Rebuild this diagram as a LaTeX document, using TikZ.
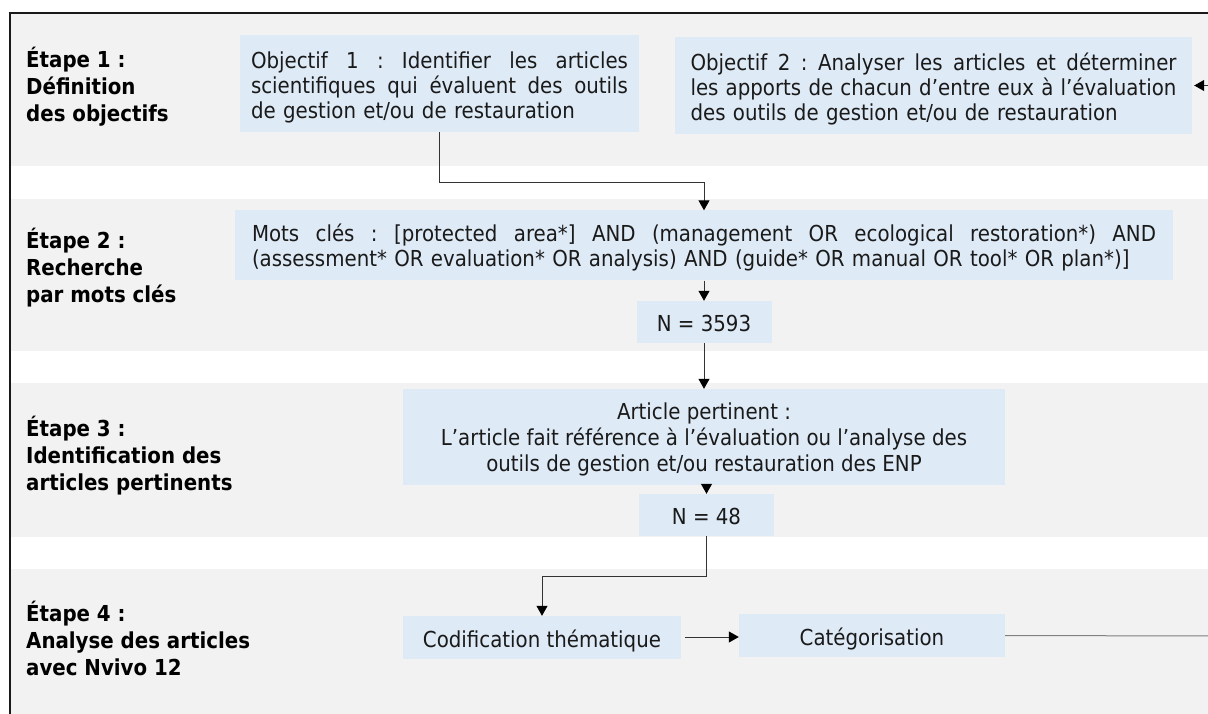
\documentclass[tikz,border=0pt]{standalone}
\usepackage{fontspec}
\setmainfont{DejaVu Sans Condensed}
\usetikzlibrary{arrows.meta}
\definecolor{bandgray}{HTML}{F2F2F2}
\definecolor{boxblue}{HTML}{DEEAF6}
\definecolor{txt}{HTML}{1A1A1A}
\newcommand\justline[2]{\leavevmode\hbox to #1{\spaceskip=\fontdimen2\font plus 1fil\relax #2}}
\frenchspacing
\begin{document}
\begin{tikzpicture}[x=1pt,y=-1pt,
  stepbox/.style={fill=boxblue,draw=none,inner sep=0pt,text=txt,
    font=\fontsize{22}{25}\selectfont},
  onebox/.style={stepbox,text height=24pt,text depth=5pt},
  steplabel/.style={anchor=west,inner sep=0pt,align=left,text=black,
    font=\fontsize{22}{27}\selectfont\bfseries},
  conn/.style={draw=black!80,line width=1pt},
  arr/.style={conn,-{Triangle[length=10pt,width=11pt,black]}},
]
\useasboundingbox (0,0) rectangle (1208,714);
\fill[white] (0,0) rectangle (1208,714);
% bands
\fill[bandgray] (11,14) rectangle (1210,166);
\fill[bandgray] (11,199) rectangle (1210,351);
\fill[bandgray] (11,383) rectangle (1210,537);
\fill[bandgray] (11,569) rectangle (1210,716);
% frame
\draw[line width=2.4pt,black!90,line join=miter] (10,718) -- (10,13) -- (1212,13);
% labels
\node[steplabel] (l1) at (26,87) {Étape 1 :\\Définition\\des objectifs};
\node[steplabel] (l2) at (26,268) {Étape 2 :\\Recherche\\par mots clés};
\node[steplabel] (l3) at (26,456) {Étape 3 :\\Identification des\\articles pertinents};
\node[steplabel] (l4) at (26,638) {Étape 4 :\\Analyse des articles\\avec Nvivo 12};
% boxes
\node[stepbox,minimum width=399pt,minimum height=97pt,text width=377pt,align=left] (obj1) at (439.5,83.5)
  {\rule{0pt}{25pt}\justline{377pt}{Objectif 1 : Identifier les articles}\\\justline{377pt}{scientifiques qui évaluent des outils}\\de gestion et/ou de restauration};
\node[stepbox,minimum width=517pt,minimum height=97pt,text width=486pt,align=left] (obj2) at (933.5,85.5)
  {\rule{0pt}{24pt}\justline{486pt}{Objectif 2 : Analyser les articles et déterminer}\\\justline{486pt}{les apports de chacun d’entre eux à l’évaluation}\\des outils de gestion et/ou de restauration};
\node[stepbox,minimum width=938pt,minimum height=70pt,text width=904pt,align=left] (mots) at (704,245.5)
  {\rule{0pt}{21pt}\justline{904pt}{Mots clés : [protected area*] AND (management OR ecological restoration*) AND}\\(assessment* OR evaluation* OR analysis) AND (guide* OR manual OR tool* OR plan*)]};
\node[onebox,minimum width=135pt,minimum height=42pt] (n1) at (704,322) {N = 3593};
\node[stepbox,minimum width=602pt,minimum height=96pt,align=center,font=\fontsize{22}{26}\selectfont] (art) at (704,437)
  {\rule{0pt}{21pt}Article pertinent :\\L’article fait référence à l’évaluation ou l’analyse des\\outils de gestion et/ou restauration des ENP};
\node[onebox,minimum width=135pt,minimum height=42pt] (n2) at (706.5,515) {N = 48};
\node[onebox,minimum width=278pt,minimum height=43pt] (cod) at (542,637.5) {Codification thématique};
\node[onebox,minimum width=266pt,minimum height=43pt] (cat) at (872,635.5) {Catégorisation};
% connectors
\coordinate (redge1) at (1210,85.5);
\coordinate (redge2) at (1210,636);
\draw[arr] (obj1.south) -- ++(0,50) -| (mots.north);
\draw[arr,shorten >=2pt] (redge1) -- (obj2.east);
\draw[arr] (mots.south) -- (n1.north);
\draw[arr] (n1.south) -- (art.north);
\draw[arr] (art.south -| n2.north) -- (n2.north);
\draw[arr] (n2.south) -- ++(0,40) -| (cod.north);
\draw[arr,shorten <=4pt] (cod.east |- 0,637) -- (cat.west |- 0,637);
\draw[conn,draw=black!50] (cat.east) -- (redge2);
\end{tikzpicture}
\end{document}
